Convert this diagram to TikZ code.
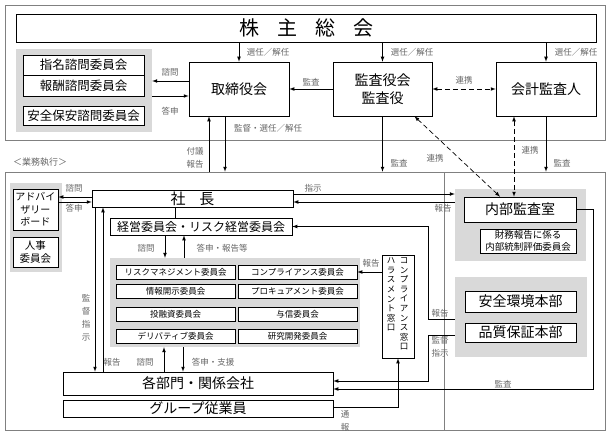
\documentclass[tikz,border=0pt]{standalone}
\usepackage{fontspec}
\setmainfont{Noto Sans CJK JP}
\definecolor{panelgray}{gray}{0.85}
\definecolor{labelgray}{gray}{0.4}
\definecolor{framegray}{gray}{0.5}

\begin{document}
\begin{tikzpicture}[>=latex, x=1pt, y=-1pt,
  unitbox/.style={draw, line width=0.7pt, fill=white, inner sep=0pt, align=center},
  graypanel/.style={fill=panelgray, inner sep=0pt},
  outerframe/.style={draw=framegray, line width=0.6pt, inner sep=0pt},
  lab/.style={text=labelgray, font=\fontsize{8.5}{13}\selectfont, inner sep=0pt, align=center},
  bigtext/.style={font=\fontsize{14}{18}\selectfont},
  midtext/.style={font=\fontsize{12.5}{15}\selectfont},
  committee/.style={font=\fontsize{8.5}{10}\selectfont, minimum width=119pt, minimum height=14pt},
  conn/.style={line width=0.7pt},
  linkdash/.style={dash pattern=on 5pt off 3pt}]
\useasboundingbox (0,0) rectangle (610,436);

% === Frames ===
\node[outerframe, minimum width=600pt, minimum height=135pt] (govframe) at (305,72.5) {};
\node[outerframe, minimum width=600pt, minimum height=258pt] (execframe) at (305,301) {};
\draw[draw=framegray, line width=0.5pt] (444,172) -- (444,430);

% === Governance ===
\node[unitbox, minimum width=580pt, minimum height=28pt, font=\fontsize{20}{22}\selectfont]
  (gm) at (306,28) {株\hspace{18pt}主\hspace{18pt}総\hspace{18pt}会};

\node[graypanel, minimum width=136pt, minimum height=83pt] (advpanel) at (84,90.5) {};
\node[unitbox, midtext, minimum width=121pt, minimum height=20pt] (nom) at (83.5,65) {指名諮問委員会};
\node[unitbox, midtext, minimum width=121pt, minimum height=21pt] (rem) at (83.5,85.5) {報酬諮問委員会};
\node[unitbox, midtext, minimum width=121pt, minimum height=19pt] (sec) at (83.5,115.5) {安全保安諮問委員会};

\node[unitbox, bigtext, minimum width=100pt, minimum height=54pt] (board) at (239,89) {取締役会};
\node[unitbox, bigtext, minimum width=99pt, minimum height=54pt] (audit) at (382.5,89) {監査役会\\監査役};
\node[unitbox, bigtext, minimum width=100pt, minimum height=54pt] (accaud) at (546,89) {会計監査人};

% === Execution ===
\node[lab, font=\fontsize{9}{11}\selectfont] (execlabel) at (40,162) {＜業務執行＞};

\node[graypanel, minimum width=52pt, minimum height=89pt] (lowpanel) at (36,227.5) {};
\node[unitbox, font=\fontsize{10}{12.5}\selectfont, minimum width=45pt, minimum height=41pt]
  (advboard) at (35.5,209.5) {アドバイ\\ザリー\\ボード};
\node[unitbox, font=\fontsize{10.5}{12.5}\selectfont, minimum width=45pt, minimum height=30pt]
  (hr) at (35.5,252) {人事\\委員会};

\node[unitbox, font=\fontsize{15}{17}\selectfont, minimum width=201pt, minimum height=17pt]
  (pres) at (192.5,198.5) {社\hspace{14pt}長};
\node[unitbox, font=\fontsize{12}{14}\selectfont, minimum width=182pt, minimum height=17pt]
  (mgmt) at (201,226.5) {経営委員会・リスク経営委員会};

\node[graypanel, minimum width=250pt, minimum height=89pt] (companel) at (235,302.5) {};
\foreach \cy/\ca/\cb [count=\r] in {272/リスクマネジメント委員会/コンプライアンス委員会,
    291/情報開示委員会/プロキュアメント委員会,
    314/投融資委員会/与信委員会,
    336/デリバティブ委員会/研究開発委員会}{
  \node[unitbox, committee] (com-\r-1) at (175.5,\cy) {\ca};
  \node[unitbox, committee] (com-\r-2) at (297.5,\cy) {\cb};
}

\node[unitbox, minimum width=32pt, minimum height=103pt] (compwin) at (398,306.5) {};
\node[inner sep=0pt, align=center, anchor=north, font=\fontsize{8.5}{9.6}\selectfont]
  (compwin-r) at (404,257.5) {コ\\ン\\プ\\ラ\\イ\\ア\\ン\\ス\\窓\\口};
\node[inner sep=0pt, align=center, anchor=north, font=\fontsize{8.5}{9.6}\selectfont]
  (compwin-l) at (391,257.5) {ハ\\ラ\\ス\\メ\\ン\\ト\\窓\\口};

\node[unitbox, bigtext, minimum width=270pt, minimum height=23pt] (divs) at (198,383.5) {各部門・関係会社};
\node[unitbox, bigtext, minimum width=270pt, minimum height=17pt] (emp) at (198,408.5) {グループ従業員};

\node[graypanel, minimum width=131pt, minimum height=72pt] (iapanel) at (520.5,225) {};
\node[unitbox, bigtext, minimum width=112pt, minimum height=25pt] (ia) at (520,209.5) {内部監査室};
\node[unitbox, font=\fontsize{9.5}{12}\selectfont, minimum width=96pt, minimum height=24pt]
  (icfr) at (528,241) {財務報告に係る\\内部統制評価委員会};

\node[graypanel, minimum width=132pt, minimum height=80pt] (sqpanel) at (521,317) {};
\node[unitbox, bigtext, minimum width=111pt, minimum height=21pt] (env) at (520.5,301.5) {安全環境本部};
\node[unitbox, bigtext, minimum width=111pt, minimum height=19pt] (qa) at (520.5,332.5) {品質保証本部};

% === Connections: governance ===
\foreach \t in {board, audit, accaud}{
  \draw[conn, ->] (gm.south -| \t.north) -- (\t.north);
}
\coordinate (askB) at ([yshift=8pt]board.west);
\draw[conn, ->] (askB) -- (askB -| advpanel.east);
\coordinate (ansB) at ([yshift=-7pt]board.west);
\draw[conn, ->] (ansB -| advpanel.east) -- (ansB);
\draw[conn, ->] (audit.west) -- (board.east);
\draw[conn, <->, linkdash] (audit.east) -- (accaud.west);

\coordinate (repB) at ([xshift=-30pt]board.south);
\draw[conn, ->] (repB |- execframe.north) -- (repB);
\coordinate (supB) at ([xshift=-14pt]board.south);
\draw[conn, ->] (supB) -- (supB |- execframe.north);
\draw[conn, ->] (audit.south) -- (audit.south |- execframe.north);
\draw[conn, ->] (accaud.south) -- (accaud.south |- execframe.north);

\draw[conn, <->, linkdash] ([xshift=32pt]audit.south) -- ([xshift=-20pt]ia.north);
\coordinate (lnkA) at ([xshift=-32pt]accaud.south);
\draw[conn, <->, linkdash] (lnkA) -- (lnkA |- ia.north);

% === Connections: execution ===
\coordinate (askP) at ([yshift=1.5pt]pres.west);
\draw[conn, ->] (askP) -- (askP -| advboard.east);
\coordinate (ansP) at ([yshift=-3.5pt]pres.west);
\draw[conn, ->] (ansP -| advboard.east) -- (ansP);

\coordinate (pm) at ([xshift=-17.5pt]pres.south);
\draw[conn] (pm) -- (pm |- mgmt.north);
\coordinate (askM) at ([xshift=-36pt]mgmt.south);
\draw[conn, ->] (askM) -- (askM |- companel.north);
\coordinate (ansM) at ([xshift=-17pt]mgmt.south);
\draw[conn, ->] (ansM |- companel.north) -- (ansM);

\coordinate (supP) at ([xshift=-97.5pt]pres.south);
\draw[conn, ->] (supP) -- (supP |- divs.north);
\coordinate (repP) at ([xshift=-89.5pt]pres.south);
\draw[conn, ->] (repP |- divs.north) -- (repP);

\coordinate (askD) at ([xshift=-34pt]divs.north);
\draw[conn, ->] (askD) -- (askD |- companel.south);
\coordinate (ansD) at ([xshift=-15pt]divs.north);
\draw[conn, ->] (ansD |- companel.south) -- (ansD);

\coordinate (insP) at ([yshift=4.5pt]pres.east);
\draw[conn, ->] (insP) -- (insP -| iapanel.west);
\coordinate (repI) at ([yshift=-3.5pt]pres.east);
\draw[conn, ->] (repI -| iapanel.west) -- (repI);

\coordinate (kink) at (428,0);
\coordinate (repS) at ([yshift=-2pt]sqpanel.west);
\draw[conn, ->] (repS) -- (repS -| kink) |- (mgmt.east);
\coordinate (supS) at ([yshift=-18pt]sqpanel.west);
\coordinate (supD) at ([yshift=2.5pt]divs.east);
\draw[conn, ->] (supS) -- (supS -| kink) |- (supD);

\coordinate (audI) at (593,0);
\coordinate (audD) at ([yshift=-5.5pt]divs.east);
\draw[conn, ->] (ia.east) -- (ia.east -| audI) |- (audD);

\coordinate (whE) at ([yshift=1.5pt]emp.east);
\draw[conn, ->] (whE) -| (compwin.south);
\coordinate (repC) at ([yshift=34.5pt]compwin.west);
\draw[conn, ->] (repC) -- (repC -| com-1-2.east);

% === Labels ===
\node[lab] (l-sel1) at (268,52) {選任／解任};
\node[lab] (l-sel2) at (412,52) {選任／解任};
\node[lab] (l-sel3) at (576,52) {選任／解任};
\node[lab] (l-ask1) at (170,72) {諮問};
\node[lab] (l-ans1) at (170,111) {答申};
\node[lab] (l-aud1) at (311,82) {監査};
\node[lab] (l-lnk1) at (464,80) {連携};
\node[lab] (l-rep1) at (195,157.5) {付議\\報告};
\node[lab] (l-sup1) at (268,128) {監督・選任／解任};
\node[lab] (l-aud2) at (399,163) {監査};
\node[lab] (l-aud3) at (562,163) {監査};
\node[lab] (l-lnk2) at (435,158) {連携};
\node[lab] (l-lnk3) at (530,150) {連携};
\node[lab] (l-ask2) at (74,188) {諮問};
\node[lab] (l-ans2) at (74,208) {答申};
\node[lab] (l-ask3) at (146,248) {諮問};
\node[lab] (l-ans3) at (222,248) {答申・報告等};
\node[lab] (l-sup2) at (86,318) {監\\督\\指\\示};
\node[lab] (l-rep2) at (112,362) {報告};
\node[lab] (l-ask4) at (145,362) {諮問};
\node[lab] (l-ans4) at (213,362) {答申・支援};
\node[lab] (l-ins1) at (313,188) {指示};
\node[lab] (l-rep3) at (443,208) {報告};
\node[lab] (l-rep4) at (371,263) {報告};
\node[lab] (l-rep5) at (440,313) {報告};
\node[lab] (l-sup3) at (440,346.5) {監督\\指示};
\node[lab] (l-aud4) at (503,384) {監査};
\node[lab] (l-wb1) at (345,421) {通\\報};
\end{tikzpicture}
\end{document}
